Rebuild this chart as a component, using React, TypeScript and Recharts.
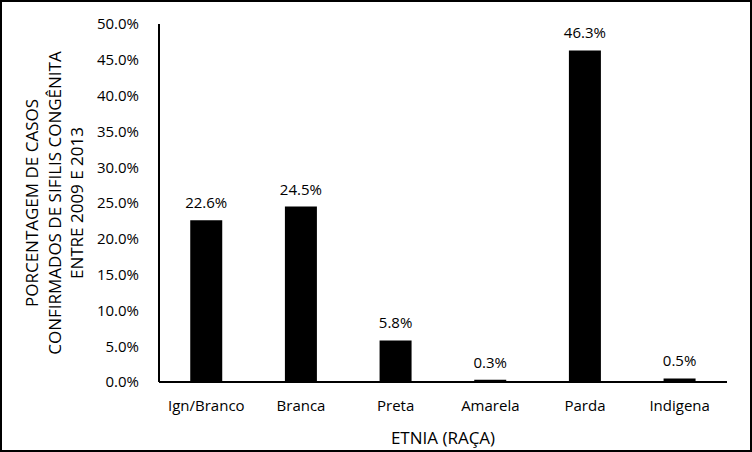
import { BarChart, Bar, XAxis, YAxis, LabelList, Label } from 'recharts';

const categories = ['Ign/Branco', 'Branca', 'Preta', 'Amarela', 'Parda', 'Indigena'];
const percentages = [22.6, 24.5, 5.8, 0.3, 46.3, 0.5];
const yTicks = [0, 5, 10, 15, 20, 25, 30, 35, 40, 45, 50];
const yTitleLines = [
  'PORCENTAGEM DE CASOS',
  'CONFIRMADOS DE SIFILIS CONGÊNITA',
  'ENTRE 2009 E 2013',
];

const data = categories.map((name, i) => ({ name, value: percentages[i] }));

const font = '"Open Sans", "Noto Sans", sans-serif';

function YTitle(props: any) {
  const vb = props.viewBox || {};
  const cy = vb.y + vb.height / 2;
  const xs = [31, 54, 76];
  return (
    <g>
      {yTitleLines.map((line, i) => (
        <text
          key={i}
          x={xs[i]}
          y={cy}
          transform={`rotate(-90 ${xs[i]} ${cy})`}
          textAnchor="middle"
          dominantBaseline="central"
          fontSize={17}
          fontFamily={font}
          fill="#000"
        >
          {line}
        </text>
      ))}
    </g>
  );
}

export default function App() {
  return (
    <div style={{ position: 'relative', width: 752, height: 452, background: '#fff' }}>
      <style>{`body { margin: 0; }`}</style>
      <BarChart
        width={752}
        height={452}
        data={data}
        margin={{ top: 24, right: 25, bottom: 0, left: 0 }}
        barCategoryGap="33%"
      >
        <XAxis
          dataKey="name"
          height={70}
          tickLine={false}
          axisLine={{ stroke: '#000', strokeWidth: 2 }}
          tickMargin={12}
          tick={{ fontSize: 15, fill: '#000', fontFamily: font }}
        >
          <Label
            value="ETNIA (RAÇA)"
            position="insideBottom"
            offset={8}
            style={{ fontSize: 17, fill: '#000', fontFamily: font }}
          />
        </XAxis>
        <YAxis
          width={159}
          domain={[0, 50]}
          ticks={yTicks}
          interval={0}
          tickLine={false}
          axisLine={{ stroke: '#000', strokeWidth: 2 }}
          tickMargin={14}
          tickFormatter={(v: number) => `${v.toFixed(1)}%`}
          tick={{ fontSize: 15, fill: '#000', fontFamily: font }}
        >
          <Label content={<YTitle />} />
        </YAxis>
        <Bar dataKey="value" fill="#000" isAnimationActive={false}>
          <LabelList
            dataKey="value"
            position="top"
            offset={12}
            formatter={(v: any) => `${Number(v).toFixed(1)}%`}
            style={{ fontSize: 15, fill: '#000', fontFamily: font }}
          />
        </Bar>
      </BarChart>
      <div
        style={{
          position: 'absolute',
          inset: 0,
          border: '2px solid #000',
          pointerEvents: 'none',
        }}
      />
    </div>
  );
}
